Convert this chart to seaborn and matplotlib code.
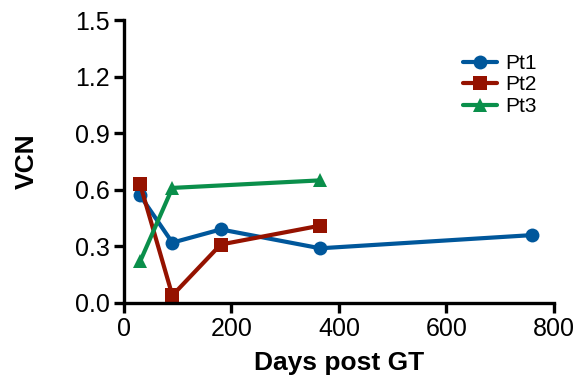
import matplotlib
matplotlib.use("Agg")
import matplotlib.pyplot as plt
import seaborn as sns
import pandas as pd

days_pt1 = [30, 90, 180, 365, 760]
vcn_pt1 = [0.57, 0.32, 0.39, 0.29, 0.36]
days_pt2 = [30, 90, 180, 365]
vcn_pt2 = [0.63, 0.04, 0.31, 0.41]
days_pt3 = [30, 90, 365]
vcn_pt3 = [0.22, 0.61, 0.65]
x_ticks = [0, 200, 400, 600, 800]
y_ticks = [0.0, 0.3, 0.6, 0.9, 1.2, 1.5]

df = pd.concat([
    pd.DataFrame({"Days": days_pt1, "VCN": vcn_pt1, "Patient": "Pt1"}),
    pd.DataFrame({"Days": days_pt2, "VCN": vcn_pt2, "Patient": "Pt2"}),
    pd.DataFrame({"Days": days_pt3, "VCN": vcn_pt3, "Patient": "Pt3"}),
])

sns.set_theme(style="ticks")
plt.rcParams['font.family'] = ['Liberation Sans', 'DejaVu Sans']
plt.rcParams['text.color'] = 'black'
plt.rcParams['axes.labelcolor'] = 'black'

fig = plt.figure(figsize=(5.81, 3.85), dpi=100)
ax = fig.add_axes([0.2134, 0.213, 0.7401, 0.735])

palette = {"Pt1": "#00579B", "Pt2": "#951200", "Pt3": "#0A8F4B"}
markers = {"Pt1": "o", "Pt2": "s", "Pt3": "^"}
sns.lineplot(data=df, x="Days", y="VCN", hue="Patient", style="Patient",
             palette=palette, markers=markers, dashes=False, linewidth=3,
             markersize=10, markeredgewidth=0, ax=ax)

ax.set_xlim(0, 800)
ax.set_ylim(0, 1.5)
ax.set_xticks(x_ticks)
ax.set_yticks(y_ticks)
ax.set_yticklabels([f"{v:.1f}" for v in y_ticks])
ax.set_xlabel("Days post GT", fontsize=19, fontweight="bold", labelpad=7, color="black")
ax.set_ylabel("VCN", fontsize=19, fontweight="bold", labelpad=26, color="black")
ax.tick_params(axis="both", labelsize=18, width=2.4, length=7, pad=3,
               color="black", labelcolor="black")
for s in ["left", "bottom"]:
    ax.spines[s].set_linewidth(2.4)
    ax.spines[s].set_color("black")
sns.despine(ax=ax)

leg = ax.legend(loc="upper left", bbox_to_anchor=(0.77, 0.91), frameon=False,
                fontsize=15, handlelength=1.6, handletextpad=0.4, labelspacing=0.12,
                borderaxespad=0)
for t in leg.get_texts():
    t.set_color("black")

fig.savefig("out.png", dpi=100)
